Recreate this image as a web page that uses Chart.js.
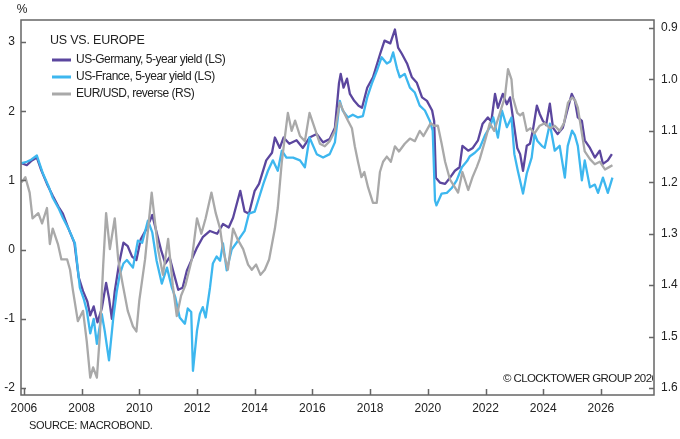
<!DOCTYPE html>
<html>
<head>
<meta charset="utf-8">
<script src="https://cdn.jsdelivr.net/npm/chart.js@4/dist/chart.umd.min.js"></script>
<style>
  html, body { margin: 0; padding: 0; background: #fff; }
  #wrap { width: 680px; height: 439px; }
</style>
</head>
<body>
<div id="wrap"><canvas id="chart" width="680" height="439"></canvas></div>
<script>
// US-Germany 5y yield spread (LS, %)
const gerYears = [2005.92, 2006.1, 2006.25, 2006.45, 2006.6, 2006.8, 2007.0, 2007.2, 2007.35, 2007.55, 2007.75, 2007.9,
  2008.05, 2008.2, 2008.3, 2008.42, 2008.55, 2008.7, 2008.85, 2008.95, 2009.05, 2009.15, 2009.3, 2009.45, 2009.6, 2009.75, 2009.9,
  2010.05, 2010.25, 2010.45, 2010.6, 2010.75, 2010.9, 2011.05, 2011.2, 2011.35, 2011.5, 2011.65, 2011.82,
  2012.0, 2012.2, 2012.45, 2012.7, 2012.9, 2013.1, 2013.25, 2013.5, 2013.65, 2013.8, 2014.0, 2014.15, 2014.4, 2014.6, 2014.7, 2014.87,
  2015.0, 2015.2, 2015.45, 2015.67, 2015.9, 2016.15, 2016.37, 2016.6, 2016.78, 2016.92, 2016.98, 2017.08, 2017.2, 2017.3, 2017.45,
  2017.6, 2017.72, 2017.9, 2018.1, 2018.35, 2018.5, 2018.7, 2018.86, 2018.97, 2019.1, 2019.28, 2019.45, 2019.62, 2019.8, 2019.97,
  2020.15, 2020.22, 2020.28, 2020.42, 2020.6, 2020.77, 2020.94, 2021.1, 2021.2, 2021.4, 2021.56, 2021.74, 2021.9,
  2022.08, 2022.2, 2022.33, 2022.43, 2022.6, 2022.74, 2022.85, 2022.95, 2023.1, 2023.2, 2023.3, 2023.43, 2023.54, 2023.64, 2023.78,
  2023.88, 2023.99, 2024.1, 2024.23, 2024.34, 2024.5, 2024.68, 2024.86, 2024.99, 2025.1, 2025.2, 2025.34, 2025.44, 2025.62,
  2025.79, 2025.96, 2026.07, 2026.24, 2026.38];
const gerVals = [1.25, 1.22, 1.28, 1.33, 1.15, 0.95, 0.78, 0.62, 0.52, 0.3, 0.1, -0.4,
  -0.6, -0.75, -0.95, -0.82, -1.05, -0.85, -0.48, -0.7, -1.0, -0.6, -0.2, 0.1, 0.05, -0.1, -0.15,
  0.15, 0.3, 0.5, 0.25, 0.0, -0.2, -0.11, -0.35, -0.58, -0.55, -0.3, -0.14,
  0.03, 0.18, 0.27, 0.23, 0.37, 0.32, 0.46, 0.85, 0.55, 0.52, 0.85, 0.95, 1.29, 1.4, 1.62, 1.47,
  1.62, 1.53, 1.58, 1.47, 1.62, 1.67, 1.55, 1.6, 1.76, 2.4, 2.54, 2.34, 2.47, 2.25, 2.15,
  2.08, 2.05, 2.34, 2.49, 2.83, 3.02, 2.98, 3.18, 2.92, 2.83, 2.69, 2.49, 2.41, 2.2, 2.15,
  2.01, 1.86, 1.04, 0.97, 0.95, 1.04, 1.14, 1.19, 1.5, 1.43, 1.47, 1.58, 1.82,
  1.91, 1.85, 2.25, 2.05, 2.25, 2.1, 2.2, 1.91, 1.47, 1.38, 1.14, 1.5, 1.53, 1.72, 2.08,
  1.96, 1.86, 1.8, 2.11, 1.76, 1.67, 1.76, 2.05, 2.25, 2.15, 1.91, 1.86, 1.58, 1.47,
  1.33, 1.43, 1.24, 1.29, 1.38];

// US-France 5y yield spread (LS, %)
const fraYears = [2005.92, 2006.1, 2006.25, 2006.45, 2006.66, 2006.85, 2007.0, 2007.2, 2007.35, 2007.55, 2007.77, 2007.94,
  2008.08, 2008.18, 2008.3, 2008.42, 2008.53, 2008.7, 2008.8, 2008.95, 2009.1, 2009.22, 2009.33, 2009.45, 2009.57, 2009.78, 2009.95,
  2010.1, 2010.3, 2010.45, 2010.6, 2010.78, 2010.96, 2011.13, 2011.25, 2011.4, 2011.58, 2011.68, 2011.8, 2011.86,
  2012.0, 2012.1, 2012.2, 2012.3, 2012.45, 2012.55, 2012.68, 2012.8, 2012.9, 2013.03, 2013.2, 2013.37, 2013.5, 2013.65, 2013.8,
  2014.0, 2014.15, 2014.3, 2014.46, 2014.63, 2014.8, 2014.94, 2015.1, 2015.33, 2015.57, 2015.74, 2015.9, 2016.15, 2016.37, 2016.6,
  2016.78, 2016.95, 2017.05, 2017.23, 2017.4, 2017.58, 2017.75, 2017.9, 2018.06, 2018.24, 2018.4, 2018.58, 2018.7, 2018.8, 2018.93,
  2019.03, 2019.2, 2019.38, 2019.55, 2019.72, 2019.9, 2020.07, 2020.17, 2020.25, 2020.3, 2020.48, 2020.66, 2020.83,
  2021.0, 2021.18, 2021.36, 2021.46, 2021.63, 2021.8, 2021.98, 2022.15, 2022.27, 2022.43, 2022.57, 2022.74, 2022.9,
  2023.0, 2023.12, 2023.3, 2023.43, 2023.6, 2023.7, 2023.8, 2023.95, 2024.05, 2024.23, 2024.4, 2024.57, 2024.75, 2024.85,
  2025.0, 2025.1, 2025.2, 2025.34, 2025.44, 2025.62, 2025.79, 2025.9, 2026.07, 2026.24, 2026.4];
const fraVals = [1.25, 1.27, 1.3, 1.36, 1.1, 0.92, 0.75, 0.6, 0.46, 0.3, 0.09, -0.55,
  -0.72, -0.88, -1.21, -1.0, -1.36, -0.93, -1.17, -1.6, -0.98, -0.6, -0.35, -0.2, -0.15, -0.26, 0.13,
  0.1, 0.42, 0.25, -0.16, -0.49, -0.26, -0.55, -0.69, -0.98, -1.07, -0.85, -0.9, -1.75,
  -1.17, -0.93, -0.83, -0.98, -0.55, -0.2, -0.1, -0.16, 0.09, -0.3, 0.0, 0.1, 0.18, 0.27, 0.52,
  0.55, 0.75, 0.95, 1.14, 1.29, 1.14, 1.43, 1.33, 1.33, 1.29, 1.19, 1.62, 1.38, 1.33, 1.38,
  1.55, 2.15, 2.01, 1.91, 1.95, 1.91, 1.93, 2.2, 2.4, 2.59, 2.78, 2.69, 2.72, 2.85, 2.62,
  2.49, 2.54, 2.34, 2.27, 2.08, 2.01, 1.86, 1.72, 0.71, 0.64, 0.81, 0.82, 0.89,
  1.0, 1.19, 1.28, 1.35, 1.4, 1.47, 1.65, 1.77, 1.91, 1.62, 2.01, 1.77, 1.91,
  1.38, 1.14, 0.81, 1.1, 1.33, 1.67, 1.57, 1.5, 1.47, 1.82, 1.43, 1.5, 1.04, 1.5,
  1.72, 1.65, 1.5, 1.0, 1.29, 0.9, 0.94, 0.82, 1.04, 0.82, 1.04];

// EUR/USD, reversed (RS)
const eurYears = [2005.92, 2006.05, 2006.2, 2006.3, 2006.5, 2006.63, 2006.8, 2006.9, 2007.0, 2007.18, 2007.3, 2007.5, 2007.6, 2007.7,
  2007.87, 2008.05, 2008.18, 2008.3, 2008.4, 2008.53, 2008.63, 2008.75, 2008.85, 2008.98, 2009.15, 2009.27, 2009.43, 2009.6,
  2009.78, 2009.9, 2010.0, 2010.2, 2010.43, 2010.53, 2010.65, 2010.82, 2011.0, 2011.16, 2011.3, 2011.45, 2011.6, 2011.82,
  2012.0, 2012.15, 2012.3, 2012.5, 2012.65, 2012.8, 2012.9, 2013.07, 2013.25, 2013.4, 2013.6, 2013.77, 2013.9, 2014.05, 2014.2,
  2014.35, 2014.5, 2014.7, 2014.8, 2014.94, 2015.05, 2015.15, 2015.28, 2015.4, 2015.57, 2015.74, 2015.9, 2016.05, 2016.26, 2016.43,
  2016.6, 2016.78, 2016.95, 2017.1, 2017.23, 2017.37, 2017.47, 2017.58, 2017.7, 2017.8, 2017.93, 2018.1, 2018.23, 2018.34, 2018.45,
  2018.58, 2018.72, 2018.86, 2019.0, 2019.2, 2019.38, 2019.55, 2019.72, 2019.85, 2019.95, 2020.1, 2020.22, 2020.35, 2020.48, 2020.6,
  2020.77, 2020.94, 2021.05, 2021.2, 2021.4, 2021.55, 2021.7, 2021.8, 2021.98, 2022.15, 2022.3, 2022.5, 2022.67, 2022.78, 2022.9,
  2022.95, 2023.1, 2023.2, 2023.3, 2023.43, 2023.55, 2023.7, 2023.88, 2024.05, 2024.23, 2024.4, 2024.57, 2024.72, 2024.86, 2025.0,
  2025.1, 2025.2, 2025.34, 2025.44, 2025.62, 2025.79, 2025.96, 2026.14, 2026.3, 2026.4];
const eurVals = [1.2, 1.19, 1.22, 1.27, 1.26, 1.28, 1.25, 1.32, 1.29, 1.32, 1.35, 1.35, 1.37, 1.41,
  1.47, 1.45, 1.51, 1.58, 1.56, 1.58, 1.5, 1.36, 1.26, 1.33, 1.27, 1.35, 1.4, 1.45,
  1.48, 1.49, 1.43, 1.35, 1.22, 1.27, 1.33, 1.38, 1.31, 1.4, 1.46, 1.42, 1.4, 1.35,
  1.27, 1.3, 1.27, 1.22, 1.26, 1.29, 1.33, 1.37, 1.29, 1.31, 1.33, 1.36, 1.37, 1.36, 1.38,
  1.37, 1.35, 1.29, 1.25, 1.16, 1.11, 1.065, 1.1, 1.08, 1.11, 1.12, 1.065, 1.09, 1.125, 1.13,
  1.12, 1.1, 1.045, 1.065, 1.08, 1.095, 1.13, 1.16, 1.19, 1.18, 1.21, 1.24, 1.24, 1.18, 1.16,
  1.15, 1.16, 1.13, 1.14, 1.125, 1.115, 1.12, 1.1, 1.11, 1.1, 1.085, 1.09, 1.09, 1.125, 1.16,
  1.195, 1.21, 1.22, 1.18, 1.215, 1.19, 1.17, 1.155, 1.12, 1.085, 1.1, 1.065, 1.035, 0.98, 1.0,
  1.035, 1.065, 1.07, 1.065, 1.1, 1.095, 1.105, 1.09, 1.085, 1.095, 1.09, 1.1, 1.085, 1.045, 1.035,
  1.04, 1.055, 1.105, 1.14, 1.155, 1.165, 1.16, 1.175, 1.17, 1.167];

const xTicks = [2006, 2008, 2010, 2012, 2014, 2016, 2018, 2020, 2022, 2024, 2026];
const leftTicks = [-2, -1, 0, 1, 2, 3];
const rightTicks = [0.9, 1.0, 1.1, 1.2, 1.3, 1.4, 1.5, 1.6];

const FONT = '"Liberation Sans", Arial, Helvetica, sans-serif';
const PURPLE = '#5b469e';
const BLUE = '#3db7ef';
const GRAY = '#a9a9a9';

function pts(xs, ys) {
  return xs.map((x, i) => ({ x: x, y: ys[i] }));
}

const decor = {
  id: 'decor',
  afterDraw(chart) {
    const ctx = chart.ctx;
    const a = chart.chartArea;
    const xs = chart.scales.x, yl = chart.scales.y, yr = chart.scales.y2;
    ctx.save();
    // frame
    ctx.strokeStyle = '#666';
    ctx.lineWidth = 1.5;
    ctx.strokeRect(a.left, a.top, a.right - a.left, a.bottom - a.top);
    // inward tick marks
    ctx.beginPath();
    xTicks.forEach(v => {
      const p = Math.round(xs.getPixelForValue(v)) + 0.5;
      ctx.moveTo(p, a.bottom); ctx.lineTo(p, a.bottom - 6);
    });
    leftTicks.forEach(v => {
      const p = Math.round(yl.getPixelForValue(v)) + 0.5;
      ctx.moveTo(a.left, p); ctx.lineTo(a.left + 5, p);
    });
    rightTicks.forEach(v => {
      const p = Math.round(yr.getPixelForValue(v)) + 0.5;
      ctx.moveTo(a.right, p); ctx.lineTo(a.right - 5, p);
    });
    ctx.stroke();

    ctx.fillStyle = '#222';
    ctx.textBaseline = 'middle';
    ctx.font = '12px ' + FONT;
    ctx.textAlign = 'center';
    ctx.fillText('%', 22, 10);

    // legend
    ctx.textAlign = 'left';
    ctx.font = '12.5px ' + FONT;
    ctx.letterSpacing = '-0.2px';
    ctx.fillText('US VS. EUROPE', 50, 41);
    ctx.font = '12px ' + FONT;
    ctx.letterSpacing = '-0.5px';
    const items = [
      ['US-Germany, 5-year yield (LS)', PURPLE],
      ['US-France, 5-year yield (LS)', BLUE],
      ['EUR/USD, reverse (RS)', GRAY]
    ];
    items.forEach((it, i) => {
      const y = 60 + i * 17;
      ctx.strokeStyle = it[1];
      ctx.lineWidth = 3;
      ctx.beginPath();
      ctx.moveTo(52, y); ctx.lineTo(71, y);
      ctx.stroke();
      ctx.fillStyle = '#222';
      ctx.fillText(it[0], 76, y);
    });

    // source
    ctx.font = '11px ' + FONT;
    ctx.letterSpacing = '-0.3px';
    ctx.fillText('SOURCE: MACROBOND.', 29, 426);

    // copyright, clipped by the frame
    ctx.save();
    ctx.beginPath();
    ctx.rect(a.left, a.top, a.right - a.left - 1, a.bottom - a.top);
    ctx.clip();
    ctx.font = '11.5px ' + FONT;
    ctx.letterSpacing = '-0.6px';
    ctx.fillText('\u00A9 CLOCKTOWER GROUP 2026', 503, 379);
    ctx.restore();
    ctx.letterSpacing = '0px';
    ctx.restore();
  }
};

new Chart(document.getElementById('chart'), {
  type: 'line',
  data: {
    datasets: [
      { label: 'US-Germany, 5-year yield (LS)', data: pts(gerYears, gerVals), borderColor: PURPLE, yAxisID: 'y', order: 3 },
      { label: 'US-France, 5-year yield (LS)', data: pts(fraYears, fraVals), borderColor: BLUE, yAxisID: 'y', order: 2 },
      { label: 'EUR/USD, reverse (RS)', data: pts(eurYears, eurVals), borderColor: GRAY, yAxisID: 'y2', order: 1 }
    ]
  },
  options: {
    responsive: false,
    animation: false,
    devicePixelRatio: 1,
    layout: { padding: { top: 20, left: 0, right: 0, bottom: 0 } },
    elements: {
      line: { borderWidth: 2.3, tension: 0, fill: false, borderJoinStyle: 'round' },
      point: { radius: 0 }
    },
    plugins: { legend: { display: false }, tooltip: { enabled: false } },
    scales: {
      x: {
        type: 'linear', min: 2005.9, max: 2027.84,
        afterFit: s => { s.height = 44; },
        afterBuildTicks: s => { s.ticks = xTicks.map(v => ({ value: v })); },
        grid: { display: false, drawTicks: false },
        border: { display: false },
        ticks: { padding: 6, color: '#222', font: { family: FONT, size: 12 }, maxRotation: 0, callback: v => String(v) }
      },
      y: {
        position: 'left', min: -2.1, max: 3.318,
        afterFit: s => { s.width = 21; },
        afterBuildTicks: s => { s.ticks = leftTicks.map(v => ({ value: v })); },
        grid: { display: false, drawTicks: false },
        border: { display: false },
        ticks: { padding: 6, color: '#222', font: { family: FONT, size: 12 }, callback: v => String(v) }
      },
      y2: {
        position: 'right', reverse: true, min: 0.8844, max: 1.6136,
        afterFit: s => { s.width = 26; },
        afterBuildTicks: s => { s.ticks = rightTicks.map(v => ({ value: v })); },
        grid: { display: false, drawTicks: false },
        border: { display: false },
        ticks: { padding: 7, color: '#222', font: { family: FONT, size: 12 }, callback: v => Number(v).toFixed(1) }
      }
    }
  },
  plugins: [decor]
});
</script>
</body>
</html>
